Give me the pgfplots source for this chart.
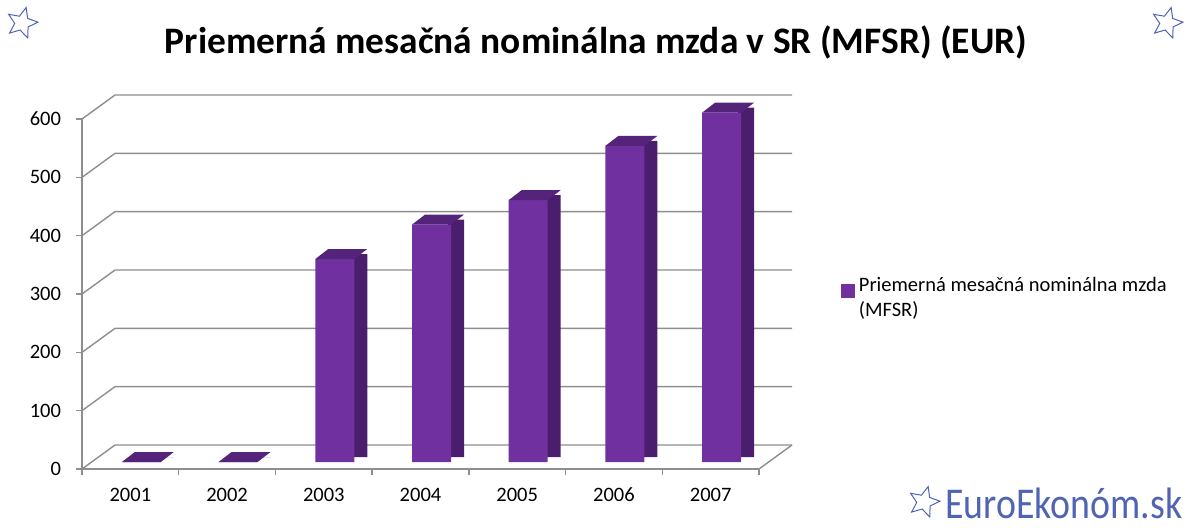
\documentclass[border=0pt]{standalone}
\usepackage{fontspec}
\setmainfont{Carlito}
\newfontfamily\wmfont[FakeStretch=0.86]{Carlito}
\usepackage{pgfplots}
\usepackage{pgfplotstable}
\pgfplotsset{compat=1.18}
\usetikzlibrary{shapes.geometric}
\definecolor{purp}{HTML}{7030A0}
\definecolor{purpside}{HTML}{4A1E6C}
\definecolor{purptop}{HTML}{54247A}
\definecolor{gridc}{HTML}{8E8E8E}
\definecolor{starblue}{HTML}{5064B4}
\pgfdeclareplotmark{topface}{%
 \pgfpathmoveto{\pgfpoint{-9.75pt}{0pt}}%
 \pgfpathlineto{\pgfpoint{9.75pt}{0pt}}%
 \pgfpathlineto{\pgfpoint{16.25pt}{5pt}}%
 \pgfpathlineto{\pgfpoint{-3.25pt}{5pt}}%
 \pgfpathclose
 \pgfusepath{fill}}
\pgfplotstableread{
x y
0 0
1 0
2 348
3 407
4 449
5 542
6 599
}\wages
\begin{document}
\begin{tikzpicture}
\useasboundingbox (0,0) rectangle (596.5pt,263.5pt);
\node[font=\bfseries\fontsize{18.7}{22}\selectfont, anchor=base] at (298pt,237pt) {Priemerná mesačná nominálna mzda v SR (MFSR) (EUR)};
\begin{axis}[
 at={(41pt,29pt)}, anchor=south west,
 scale only axis, width=338.5pt, height=175pt,
 xmin=-0.5, xmax=6.5, ymin=0, ymax=600,
 clip=false,
 axis lines=left, axis line style={gridc, line width=0.7pt, -},
 ytick={0,100,...,600},
 xtick={0,...,6}, xticklabels={2001,2002,2003,2004,2005,2006,2007},
 minor xtick={-0.5,0.5,...,6.5},
 tick align=outside,
 major tick length=3pt, minor tick length=3pt,
 major x tick style={draw=none},
 tick style={gridc, line width=0.7pt},
 ticklabel style={font=\fontsize{10.25}{12}\selectfont},
 yticklabel style={xshift=-4pt},
 xticklabel style={yshift=-3pt},
 /pgf/number format/assume math mode=true,
 legend cell align=left,
 legend style={at={(1.121,0.56)}, anchor=north west, draw=none, fill=none,
   font=\fontsize{10.25}{12.25}\selectfont, cells={align=left}, inner sep=0pt},
]
\pgfplotsinvokeforeach{0,100,...,600}{
 \draw[gridc, line width=0.7pt] (axis cs:-0.5,#1) -- ++(16.5pt,12pt) -- ([shift={(16.5pt,12pt)}]axis cs:6.5,#1);
}
\draw[gridc, line width=0.7pt] ([shift={(16.5pt,12pt)}]axis cs:6.5,0) -- (axis cs:6.5,0);
\addplot[ybar, bar width=8pt, bar shift=17.75pt, fill=purpside, draw=none, yshift=6pt, forget plot] table[x=x,y=y]{\wages};
\addplot[ybar, bar width=19.5pt, bar shift=5.5pt, fill=purp, draw=none, yshift=3.5pt,
  legend image code/.code={\fill[purp] (0pt,-3.4pt) rectangle (6.8pt,3.4pt);}] table[x=x,y=y]{\wages};
\addplot[only marks, mark=topface, mark options={fill=purptop, draw=none}, xshift=5.5pt, yshift=3.5pt, forget plot] table[x=x,y=y]{\wages};
\addlegendentry{Priemerná mesačná nominálna mzda\\(MFSR)}
\end{axis}
\node[anchor=base west, font=\wmfont\fontsize{22}{26}\selectfont, text=starblue, inner sep=0pt] at (472.5pt,4.5pt) {EuroEkonóm.sk};
\node[star, star points=5, star point ratio=2.2, draw=starblue, line width=0.5pt, minimum size=16pt, inner sep=0pt, rotate=-15] at (11pt,252pt) {};
\node[star, star points=5, star point ratio=2.2, draw=starblue, line width=0.5pt, minimum size=16pt, inner sep=0pt, rotate=-15] at (583.5pt,252pt) {};
\node[star, star points=5, star point ratio=2.2, draw=starblue, line width=0.5pt, minimum size=16pt, inner sep=0pt, rotate=-15] at (462pt,12.5pt) {};
\end{tikzpicture}
\end{document}
